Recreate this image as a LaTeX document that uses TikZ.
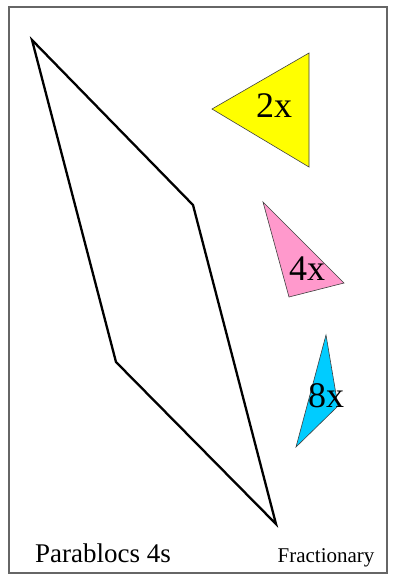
\documentclass[tikz,border=0pt]{standalone}
\usepackage{fontspec}
\setmainfont{Liberation Serif}
\usepackage{xcolor}
\usepackage{tikz}
\definecolor{tanyellow}{HTML}{FFFF00}
\definecolor{tanpink}{HTML}{FF99CC}
\definecolor{tancyan}{HTML}{00CCFF}
\tikzset{
  piece/.style={draw=black!75, line width=0.6pt},
  bigpiece/.style={draw=black, line width=2.3pt, line join=miter},
  factor/.style={font=\fontsize{36}{36}\selectfont, inner sep=0pt},
}
\begin{document}
\begin{tikzpicture}[x=1pt,y=-1pt]
\useasboundingbox (0,0) rectangle (395,576);
\draw[black!60, line width=1.2pt] (9,7) rectangle (387,573);
% large parallelogram
\coordinate (p1) at (32,40);
\coordinate (p2) at (193,205);
\coordinate (p3) at (276,524);
\coordinate (p4) at (116,362);
\draw[bigpiece] (p1) -- (p2) -- (p3) -- (p4) -- cycle;
% small triangles
\filldraw[piece, fill=tanyellow] (212,109) -- (309,53) -- (309,167) -- cycle;
\node[factor] (twox) at (274,106) {2x};
\filldraw[piece, fill=tanpink] (263,202) -- (344,283) -- (289,297) -- cycle;
\node[factor] (fourx) at (307,269) {4x};
\filldraw[piece, fill=tancyan] (326,335) -- (338,406) -- (296,447) -- cycle;
\node[factor] (eightx) at (326,396) {8x};
% captions
\node[font=\fontsize{27}{27}\selectfont, anchor=base] (title) at (103,562) {Parablocs 4s};
\node[font=\fontsize{21}{21}\selectfont, anchor=base] (brand) at (326,562) {Fractionary};
\end{tikzpicture}
\end{document}
